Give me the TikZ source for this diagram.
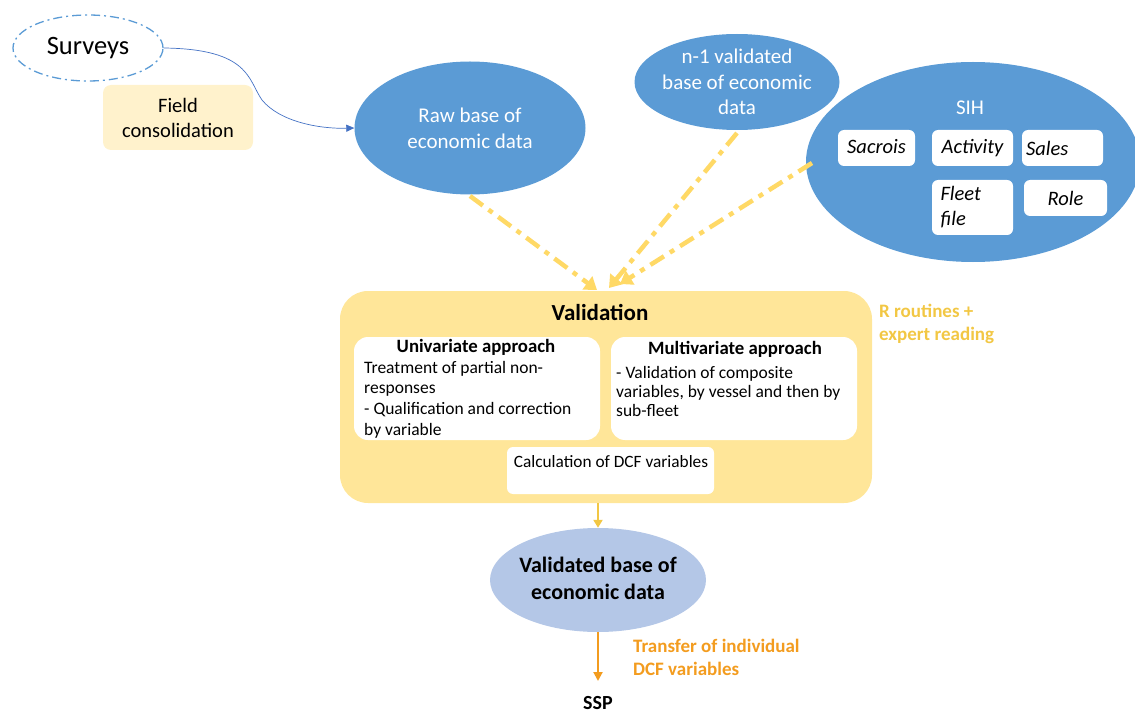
\documentclass[tikz,border=0pt]{standalone}
\usepackage{fontspec}
\setmainfont{Carlito}
\usetikzlibrary{arrows.meta,shapes.geometric}
\definecolor{bluef}{HTML}{5B9BD5}
\definecolor{bluel}{HTML}{4472C4}
\definecolor{pale}{HTML}{B4C7E7}
\definecolor{cream}{HTML}{FFF2CC}
\definecolor{yell}{HTML}{FFE699}
\definecolor{ydash}{HTML}{FFD966}
\definecolor{gold}{HTML}{F2C744}
\definecolor{orng}{HTML}{F39C1F}
\tikzset{
  blueell/.style={ellipse,fill=bluef,draw=none,inner sep=0pt},
  wtext/.style={text=white,align=center,inner sep=0pt,font=\fontsize{21}{25.5}\selectfont},
  wbox/.style={fill=white,rounded corners=6pt,draw=none,inner sep=0pt,font=\fontsize{20.5}{25}\selectfont\itshape,align=left},
  ydarrow/.style={draw=ydash,line width=4.5pt,dash pattern=on 16pt off 7pt on 5pt off 7pt,-{Triangle[width=16pt,length=12pt]}},
}
\begin{document}
\begin{tikzpicture}[x=1pt,y=-1pt]
\useasboundingbox (0,0) rectangle (1135,714);
% Surveys
\node[ellipse,draw=bluef,line width=1.3pt,dash pattern=on 9pt off 4pt on 2pt off 4pt,minimum width=150pt,minimum height=66pt,inner sep=0pt] (sur) at (88,48) {};
\node[font=\fontsize{26.5}{30}\selectfont,inner sep=0pt] (surt) at (88,48) {Surveys};
\node[fill=cream,rounded corners=8pt,minimum width=150pt,minimum height=65pt,inner sep=0pt,align=center,font=\fontsize{20.5}{25}\selectfont] (field) at (178,117.5) {Field\\consolidation};
% blue ellipses
\node[blueell,minimum width=231pt,minimum height=133pt] (raw) at (470,128) {};
\node[wtext,font=\fontsize{21}{26}\selectfont] (rawt) at (470,128) {Raw base of\\economic data};
\node[blueell,minimum width=205pt,minimum height=96pt] (n1) at (737,82) {};
\node[wtext] (n1t) at (737,82) {n-1 validated\\base of economic\\data};
\node[blueell,minimum width=334pt,minimum height=200pt] (sih) at (973,162) {};
\node[wtext] (sihl) at (970,108) {SIH};
\node[wbox,minimum width=77pt,minimum height=36pt] (sac) at (876.5,148) {\raisebox{3pt}{Sacrois}};
\node[wbox,minimum width=81pt,minimum height=36pt] (act) at (972.5,148) {Activity};
\node[wbox,minimum width=81pt,minimum height=36pt,text width=73pt] (sal) at (1062.5,148) {Sales};
\node[wbox,minimum width=81pt,minimum height=55pt,text width=64pt] (fle) at (972.5,207.5) {Fleet\\file};
\node[wbox,minimum width=83pt,minimum height=36pt] (rol) at (1065.5,198) {Role};
% Surveys -> raw
\draw[bluel,line width=0.7pt,-{Triangle[width=7pt,length=8pt]}] (sur.east) .. controls (250,49) and (248,80) .. (262,100) .. controls (280,122) and (320,129) .. (raw.west);
% validation
\node[fill=yell,rounded corners=28pt,minimum width=532pt,minimum height=212pt,inner sep=0pt] (val) at (606,397) {};
\node[font=\fontsize{23}{26}\selectfont\bfseries] (valt) at (600,312) {Validation};
\node[fill=white,rounded corners=14pt,minimum width=246pt,minimum height=103pt,inner sep=0pt] (uni) at (477,388.5) {};
\node[fill=white,rounded corners=14pt,minimum width=246pt,minimum height=103pt,inner sep=0pt] (mul) at (734,388.5) {};
\node[fill=white,rounded corners=6pt,minimum width=207pt,minimum height=47pt,inner sep=0pt] (calc) at (610.5,470.5) {};
\node[font=\fontsize{18.8}{22}\selectfont\bfseries] (unit) at (476,347) {Univariate approach};
\node[font=\fontsize{18.8}{22}\selectfont\bfseries] (mult) at (735,349) {Multivariate approach};
\node[anchor=north west,align=left,inner sep=0pt,font=\fontsize{17.5}{20.6}\selectfont] (unitx) at (364,361) {Treatment of partial non-\\responses\\- Qualification and correction\\by variable};
\node[anchor=north west,align=left,inner sep=0pt,font=\fontsize{17.5}{19.2}\selectfont] (multx) at (616,366) {- Validation of composite\\variables, by vessel and then by\\sub-fleet};
\node[anchor=north,inner sep=0pt,font=\fontsize{17.3}{20}\selectfont] (calct) at (611,455) {Calculation of DCF variables};
\node[anchor=west,align=left,text=gold,inner sep=0pt,font=\fontsize{19}{23}\selectfont\bfseries] (rrout) at (879,324) {R routines +\\expert reading};
% yellow dashed arrows
\coordinate (e1) at (597,290);
\coordinate (e2) at (609,288);
\coordinate (e3) at (620,284);
\draw[ydarrow] (470,196) -- (e1);
\draw[ydarrow] (737,133) -- (e2);
\draw[ydarrow] (812,163) -- (e3);
% validated
\node[ellipse,fill=pale,minimum width=216pt,minimum height=104pt,inner sep=0pt] (vb) at (598,580) {};
\node[align=center,inner sep=0pt,font=\fontsize{22}{27}\selectfont\bfseries] (vbt) at (598,578) {Validated base of\\economic data};
\draw[gold,line width=2pt,-{Triangle[width=9pt,length=8pt]}] (598,503) -- (vb.north);
\node[font=\fontsize{20}{22}\selectfont\bfseries,inner sep=0pt] (ssp) at (598,703) {SSP};
\draw[orng,line width=2pt,-{Triangle[width=9pt,length=9pt]}] (vb.south) -- (598,681);
\node[anchor=west,align=left,text=orng,inner sep=0pt,font=\fontsize{19}{23}\selectfont\bfseries] (trans) at (633,657) {Transfer of individual\\DCF variables};
\end{tikzpicture}
\end{document}
